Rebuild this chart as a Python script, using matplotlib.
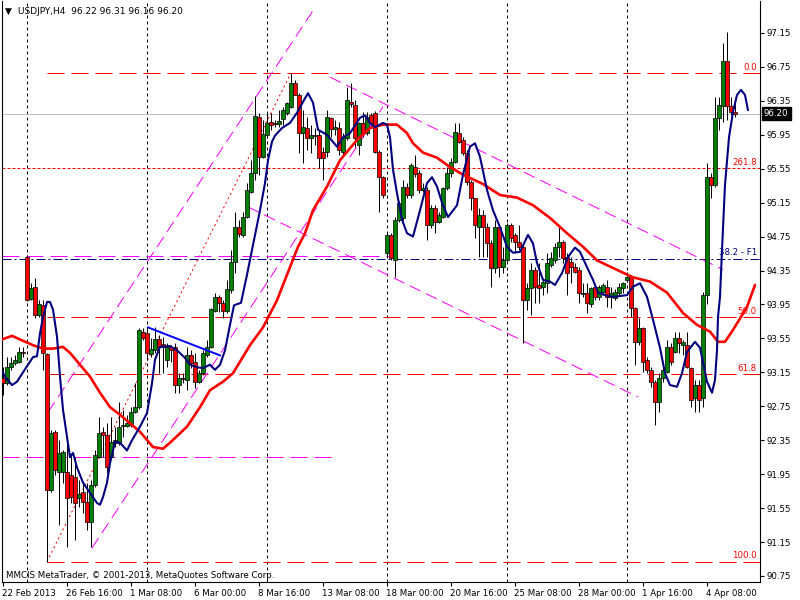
import matplotlib
matplotlib.use('Agg')
import matplotlib.pyplot as plt
import matplotlib.transforms as mtransforms
import numpy as np

# ---------------- data (USDJPY H4) ----------------
opens = [93.08,93.02,93.21,93.26,93.27,93.39,94.51,94.01,94.16,93.83,
         93.94,93.37,91.76,92.45,91.98,91.98,91.98,91.94,91.92,91.67,
         91.74,91.62,91.39,91.82,92.15,92.45,92.41,92.15,92.32,92.32,
         92.52,92.52,92.53,92.68,92.74,93.63,93.61,93.37,93.41,93.54,
         93.48,93.30,93.45,93.45,93.00,93.08,93.06,93.35,93.27,93.04,
         93.14,93.35,93.45,93.87,94.04,93.97,93.87,94.12,94.45,94.86,
         94.77,94.98,95.28,95.50,96.16,95.69,95.95,96.10,96.09,96.08,
         96.14,96.21,96.28,96.56,96.42,95.97,96.03,95.91,95.95,95.95,
         95.75,95.75,96.15,96.02,96.03,95.75,95.91,96.34,96.30,95.83,
         96.09,95.97,96.18,96.21,95.75,95.45,94.56,94.77,94.47,94.95,
         94.97,95.33,95.24,95.57,95.50,95.30,95.30,94.89,95.09,94.92,
         94.98,95.32,95.50,95.63,95.97,95.89,95.74,95.39,95.20,94.86,
         95.00,94.86,94.67,94.38,94.86,94.39,94.47,94.89,94.77,94.69,
         94.63,94.00,94.14,94.36,94.18,94.16,94.20,94.42,94.47,94.63,
         94.69,94.51,94.45,94.39,94.36,94.07,94.08,93.96,94.16,94.04,
         94.10,94.16,94.04,94.03,94.08,94.14,94.24,94.27,93.91,93.51,
         93.67,93.30,93.18,93.04,92.80,93.08,93.15,93.45,93.39,93.55,
         93.47,93.47,93.20,92.85,93.00,92.85,94.06,95.45,95.36,96.15,
         96.29,96.82,96.29,96.22]
highs = [93.21,93.33,93.33,93.35,93.45,93.45,94.53,94.20,94.26,94.00,
         94.00,93.38,92.47,92.47,92.35,92.23,92.35,92.20,92.15,91.88,
         91.84,91.84,91.88,92.23,92.62,92.51,92.55,92.62,92.51,92.80,
         92.71,92.65,92.74,93.02,93.67,93.67,93.67,93.55,93.69,93.59,
         93.57,93.50,93.47,93.50,93.14,93.14,93.45,93.41,93.38,93.18,
         93.41,93.53,93.91,94.08,94.06,94.00,94.24,94.59,95.04,94.95,
         95.04,95.38,95.65,96.41,96.21,96.12,96.22,96.21,96.12,96.24,
         96.28,96.34,96.68,96.60,96.44,96.24,96.16,96.06,96.03,96.01,
         95.81,96.24,96.16,96.12,96.10,95.97,96.51,96.56,96.36,96.10,
         96.22,96.22,96.21,96.23,95.77,95.47,94.79,94.79,94.98,95.17,
         95.42,95.38,95.62,95.71,95.54,95.38,95.33,95.12,95.12,95.04,
         95.33,95.57,95.68,96.09,96.09,95.92,95.77,95.42,95.21,95.09,
         95.06,94.91,94.71,94.95,94.89,94.63,94.91,94.91,94.79,94.89,
         94.65,94.20,94.44,94.39,94.44,94.26,94.56,94.57,94.67,94.86,
         94.71,94.56,94.51,94.44,94.39,94.20,94.20,94.16,94.18,94.18,
         94.20,94.24,94.16,94.13,94.20,94.22,94.33,94.30,93.92,93.79,
         93.69,93.33,93.21,93.06,93.14,93.27,93.53,93.50,93.63,93.63,
         93.53,93.63,93.21,93.06,93.06,94.10,95.62,95.50,96.39,96.39,
         97.03,97.16,96.40,96.31]
lows = [92.88,93.00,93.18,93.24,93.26,93.33,93.99,94.00,93.79,93.80,
        93.18,90.92,91.74,91.94,91.35,91.84,91.09,91.61,91.17,91.56,
        91.49,91.29,91.09,91.80,92.14,92.15,91.96,92.14,92.27,92.29,
        92.39,92.51,92.51,92.67,92.72,93.53,93.30,93.33,93.38,93.14,
        93.14,93.21,93.27,92.91,92.91,93.02,92.94,93.20,92.96,93.02,
        93.12,93.33,93.44,93.86,93.86,93.79,93.85,94.09,94.32,94.75,
        94.75,94.97,95.26,95.42,95.48,95.68,95.91,96.01,96.04,96.04,
        96.07,96.18,96.27,96.42,95.74,95.62,95.77,95.74,95.83,95.56,
        95.42,95.69,95.92,95.95,95.71,95.69,95.89,96.28,95.81,95.71,
        95.92,95.95,96.07,95.73,95.04,95.21,94.51,94.47,94.27,94.92,
        94.95,95.21,95.21,95.45,95.26,95.28,94.71,94.85,94.79,94.91,
        94.97,95.30,95.45,95.62,95.85,95.71,95.36,95.06,94.73,94.51,
        94.51,94.51,94.16,94.32,94.27,94.32,94.45,94.69,94.56,94.59,
        93.50,93.88,93.83,93.97,93.97,94.06,94.09,94.39,94.44,94.51,
        94.44,94.06,94.20,94.32,93.97,94.04,93.85,93.92,94.00,94.00,
        94.06,93.92,93.91,94.00,94.06,94.09,94.22,93.80,93.24,93.47,
        93.15,93.14,92.98,92.53,92.68,93.04,93.14,93.24,93.38,93.38,
        93.35,93.20,92.74,92.68,92.68,92.74,93.95,95.21,95.33,96.01,
        96.10,96.12,96.18,96.16]
closes = [93.02,93.21,93.26,93.30,93.39,93.38,94.00,94.14,93.83,93.96,
          93.38,91.76,92.43,92.00,92.20,92.21,91.67,91.68,91.61,91.72,
          91.62,91.39,91.82,92.18,92.43,92.41,92.03,92.33,92.35,92.51,
          92.53,92.55,92.68,92.74,93.65,93.55,93.38,93.43,93.54,93.45,
          93.45,93.45,93.41,93.00,93.08,93.07,93.35,93.26,93.04,93.14,
          93.38,93.45,93.90,94.04,93.97,93.87,94.13,94.45,94.86,94.78,
          94.98,95.30,95.50,96.17,95.69,95.96,96.09,96.07,96.08,96.11,
          96.24,96.32,96.56,96.42,95.97,96.04,95.91,95.95,95.94,95.68,
          95.68,96.16,96.02,96.04,95.77,95.92,96.36,96.31,95.91,96.09,
          95.97,96.16,96.09,95.75,95.45,95.24,94.77,94.50,94.95,95.15,
          95.33,95.24,95.59,95.49,95.30,95.32,94.89,95.09,94.92,95.00,
          95.32,95.50,95.63,95.98,95.86,95.74,95.39,95.20,94.89,95.00,
          94.86,94.67,94.38,94.86,94.39,94.47,94.89,94.73,94.69,94.63,
          94.00,94.14,94.36,94.16,94.14,94.22,94.44,94.50,94.63,94.69,
          94.50,94.32,94.39,94.33,94.08,94.08,93.97,94.14,94.04,94.16,
          94.18,94.04,94.08,94.10,94.16,94.20,94.27,93.91,93.51,93.67,
          93.27,93.18,93.04,92.80,93.08,93.18,93.45,93.27,93.55,93.50,
          93.51,93.21,92.82,93.00,92.82,94.06,95.45,95.36,96.15,96.30,
          96.82,96.29,96.22,96.20]

date_ticks = [0, 16, 32, 48, 64, 80, 96, 112, 128, 144, 160, 176]
date_labels = ['22 Feb 2013', '26 Feb 16:00', '1 Mar 08:00', '6 Mar 00:00',
               '8 Mar 16:00', '13 Mar 08:00', '18 Mar 00:00', '20 Mar 16:00',
               '25 Mar 08:00', '28 Mar 00:00', '1 Apr 16:00', '4 Apr 08:00']
price_ticks = [90.75, 91.15, 91.55, 91.95, 92.35, 92.75, 93.15, 93.55, 93.95,
               94.35, 94.75, 95.15, 95.55, 95.95, 96.35, 96.75, 97.15]
week_separators = [6, 36, 66, 96, 126, 156]

# red moving average (shifted forward)
red_ma_x = [-0.75, 2.25, 7.5, 10, 12.5, 15, 16.75, 19.25, 21.75, 24.25, 26.75,
            29.25, 31.75, 34.25, 37.5, 40, 41.75, 46, 49.25, 51.75, 55, 57.5,
            61.75, 65, 68.5, 71.75, 73.75, 75.5, 77.5, 81, 84.25, 88.5, 91.75,
            95, 98.5, 101, 102.5, 105, 108.5, 111.75, 115, 120, 124.25, 128.5,
            132.5, 136.75, 141, 145, 148.5, 152.5, 157.5, 161.75, 166, 170,
            173.5, 176.75, 178.75, 180.5, 182.5, 186, 188]
red_ma_y = [93.53, 93.58, 93.47, 93.43, 93.43, 93.45, 93.38, 93.24, 93.10, 92.91,
            92.74, 92.65, 92.55, 92.45, 92.27, 92.25, 92.32, 92.51, 92.74, 92.94,
            93.04, 93.14, 93.47, 93.68, 94.00, 94.39, 94.63, 94.79, 95.06, 95.34,
            95.65, 95.89, 96.03, 96.07, 96.07, 95.97, 95.85, 95.74, 95.68, 95.57,
            95.48, 95.37, 95.24, 95.21, 95.12, 94.97, 94.79, 94.63, 94.47, 94.38,
            94.27, 94.22, 94.09, 93.85, 93.71, 93.63, 93.51, 93.51, 93.65, 93.92,
            94.18]

# navy smoothed line
navy_x = [-0.75, 0.5, 2.25, 3.5, 5, 7.5, 8.5, 9.25, 10, 11, 11.75, 12.5, 13.5,
          14.25, 15, 16, 16.75, 17.5, 18.5, 20, 21.75, 23.5, 24.25, 25, 26, 26.75,
          28, 29.25, 31, 32.25, 34.25, 36, 37.25, 38, 39.25, 41.75, 43.5, 45.5,
          46.75, 48.5, 50, 51.75, 53, 54.25, 55.5, 56.75, 57.75, 59.5, 61, 62.5,
          64.25, 65.5, 66.25, 67.25, 68, 69.75, 71.75, 73.5, 75.5, 76.25, 77.5,
          78.75, 81, 83.5, 85, 86.75, 89.25, 90.5, 91.75, 93, 95, 96, 96.75, 97.5,
          98.5, 99.75, 101, 102.5, 104.25, 106, 107.25, 108.5, 109.75, 111.25,
          113.5, 115, 116.75, 118, 119.25, 121, 122.5, 124.25, 126, 127.5, 129.25,
          131.25, 132.5, 133.5, 135, 136.75, 138, 139.75, 141.25, 143, 144.25,
          146, 147.5, 148.75, 150.5, 152.5, 156, 157.5, 159.25, 161, 162.5,
          164.25, 165.5, 166.75, 168.5, 169.75, 171, 173, 174.25, 176, 177.25,
          178, 178.5, 178.75, 179.25, 179.75, 180.5, 181.5, 182.5, 183.5, 184.5,
          185.5, 186.25]
navy_y = [93.21, 93.10, 93.00, 93.04, 93.15, 93.33, 93.34, 93.61, 93.80, 93.98,
          93.98, 93.89, 93.57, 93.10, 92.71, 92.39, 92.15, 92.20, 92.03, 91.85,
          91.73, 91.61, 91.59, 91.68, 91.85, 92.08, 92.33, 92.32, 92.23, 92.35,
          92.51, 92.67, 93.02, 93.30, 93.45, 93.46, 93.41, 93.32, 93.24, 93.21,
          93.20, 93.24, 93.18, 93.24, 93.41, 93.71, 93.94, 93.97, 94.30, 94.65,
          95.06, 95.38, 95.65, 95.87, 95.94, 96.03, 96.09, 96.21, 96.38, 96.44,
          96.33, 96.01, 95.95, 95.81, 95.92, 95.97, 96.15, 96.18, 96.09, 96.04,
          96.09, 96.07, 95.92, 95.54, 95.26, 94.95, 94.79, 94.75, 95.06, 95.38,
          95.45, 95.34, 95.15, 94.98, 95.12, 95.48, 95.81, 95.85, 95.69, 95.30,
          95.06, 94.86, 94.63, 94.56, 94.57, 94.77, 94.67, 94.44, 94.24, 94.22,
          94.18, 94.32, 94.51, 94.62, 94.57, 94.39, 94.24, 94.09, 94.06, 94.04,
          94.06, 94.16, 94.20, 94.04, 93.77, 93.44, 93.14, 93.00, 92.98, 93.14,
          93.39, 93.51, 93.44, 93.04, 92.91, 93.06, 93.41, 93.80, 94.04, 94.59,
          95.36, 95.92, 96.22, 96.42, 96.48, 96.42, 96.24]

# Fibonacci / drawn objects
fib_levels = [96.68, 93.80, 93.13, 90.92]
fib_labels = ['0.0', '50.0', '61.8', '100.0']
fib_start_bar = 11
fib_diag_bars = [11, 72]
fib_diag_prices = [90.92, 96.68]
ext_level, ext_label = 95.56, '261.8'
f1_level, f1_label = 94.49, '38.2 - F1'
bid_price = 96.20
magenta_hlines = [(94.52, 96.75), (92.15, 82.5)]   # (price, end bar)
channel_lines = [((11.25, 92.68), (78.0, 97.45)),
                 ((22.25, 91.08), (95.0, 96.28)),
                 ((81.75, 96.63), (180.0, 94.36)),
                 ((61.25, 95.10), (158.75, 92.86))]
trend_line = ((36.25, 93.68), (54.25, 93.35))

# ---------------- drawing ----------------
W, H = 800, 600
FS = 6.2
plt.rcParams['font.family'] = ['DejaVu Sans']
fig = plt.figure(figsize=(8, 6), dpi=100)
fig.patch.set_facecolor('white')
L, R, T, B = 2, 760, 1, 582
ax = fig.add_axes([L / W, 1 - B / H, (R - L) / W, (B - T) / H])
ax.set_facecolor('white')
xmin = -0.25
xmax = xmin + (R - L) / 4.0
ax.set_xlim(xmin, xmax)
ax.set_ylim(90.679, 97.527)

PX = 0.72  # 1 pixel in points

# week separators
for s in week_separators:
    ax.axvline(s, color='black', lw=PX, dashes=(3, 3), zorder=1)

# bid line
ax.axhline(bid_price, color='#c0c0c0', lw=PX, zorder=1)

# fib horizontal levels
for lev in fib_levels:
    ax.plot([fib_start_bar, xmax], [lev, lev], color='#ff0000', lw=PX, dashes=(17, 7), zorder=2)
ax.axhline(ext_level, color='#ff0000', lw=PX, dashes=(3, 2), zorder=2)
ax.axhline(f1_level, color='#000080', lw=PX, dashes=(9, 3, 2, 3), zorder=2)
ax.plot(fib_diag_bars, fib_diag_prices, color='#ff0000', lw=PX, dashes=(2, 3), zorder=2)

for price, end in magenta_hlines:
    ax.plot([xmin, end], [price, price], color='#ff00ff', lw=PX, dashes=(17, 7), zorder=2)
for (x0, y0), (x1, y1) in channel_lines:
    ax.plot([x0, x1], [y0, y1], color='#ff00ff', lw=PX, dashes=(12, 6), zorder=2)

# candles
o = np.array(opens); h = np.array(highs); l = np.array(lows); c = np.array(closes)
idx = np.arange(len(o))
ax.vlines(idx, l, h, color='black', lw=PX, zorder=3)
bull = c >= o
body_h = np.maximum(np.abs(c - o), 0.006)
ax.bar(idx, body_h, bottom=np.minimum(o, c), width=0.8,
       color=np.where(bull, '#008000', '#ff0000'), edgecolor='black',
       linewidth=0.5, zorder=4)

# indicator lines
ax.plot(red_ma_x, red_ma_y, color='#ff0000', lw=1.9, zorder=5, solid_capstyle='round')
ax.plot(navy_x, navy_y, color='#000080', lw=1.5, zorder=6, solid_capstyle='round')
(tx0, ty0), (tx1, ty1) = trend_line
ax.plot([tx0, tx1], [ty0, ty1], color='#0000ff', lw=1.4, zorder=6)

# fib labels
lab_x = (757 - 3) / 4.0
for lev, lab in zip(fib_levels, fib_labels):
    ax.text(lab_x, lev + 0.015, lab, color='#ff0000', fontsize=FS, ha='right', va='bottom', zorder=7)
ax.text(lab_x, ext_level + 0.015, ext_label, color='#ff0000', fontsize=FS, ha='right', va='bottom', zorder=7)
ax.text(lab_x, f1_level + 0.015, f1_label, color='#000080', fontsize=FS, ha='right', va='bottom', zorder=7)

# axes styling
for sp in ax.spines.values():
    sp.set_color('black')
    sp.set_linewidth(0.8)
ax.spines['top'].set_visible(False)
ax.yaxis.tick_right()
ax.set_yticks(price_ticks)
ax.set_yticklabels(['%.2f' % p for p in price_ticks])
ax.set_xticks(date_ticks)
ax.set_xticklabels(date_labels)
for lab in ax.get_xticklabels():
    lab.set_horizontalalignment('left')
ax.tick_params(axis='y', direction='out', length=3, width=0.8, pad=2, labelsize=FS, colors='black')
ax.tick_params(axis='x', direction='out', length=3, width=0.8, pad=2, labelsize=FS, colors='black')
for lab in ax.get_xticklabels():
    lab.set_transform(lab.get_transform() + mtransforms.ScaledTranslation(-1 / 100, 0, fig.dpi_scale_trans))

# bid price box
trans = mtransforms.blended_transform_factory(ax.transAxes, ax.transData)
ax.text(1.0 + 4 / (R - L), bid_price, '%.2f' % bid_price, transform=trans, color='white',
        fontsize=FS, ha='left', va='center', zorder=10,
        bbox=dict(facecolor='black', edgecolor='black', boxstyle='square,pad=0.25'))

# header and footer texts
fig.text(5 / W, 1 - 11 / H, '\u25bc', fontsize=6.5, ha='left', va='center', color='black')
fig.text(18 / W, 1 - 11 / H, 'USDJPY,H4  96.22 96.31 96.16 96.20', fontsize=FS + 0.3,
         ha='left', va='center', color='black')
fig.text(6 / W, 1 - 575 / H, 'MMCIS MetaTrader, \u00a9 2001-2013, MetaQuotes Software Corp.',
         fontsize=FS, ha='left', va='center', color='black')

fig.savefig('out.png', dpi=100, facecolor='white')
